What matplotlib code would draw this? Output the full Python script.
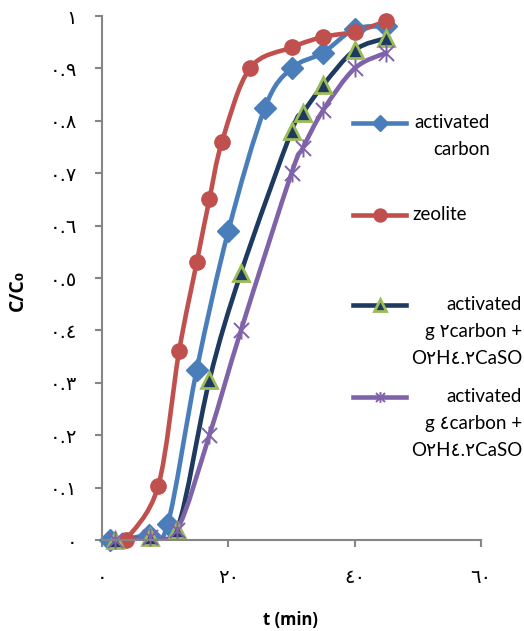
import numpy as np
import matplotlib
matplotlib.use('Agg')
import matplotlib.pyplot as plt
from matplotlib.path import Path
from matplotlib.patches import PathPatch
from matplotlib.lines import Line2D

# time (min) and C/C0 for each series
ac_t = [1.3, 7.5, 10.4, 15, 20, 25.8, 30, 35, 40, 45]
ac_c = [0.0, 0.01, 0.03, 0.325, 0.59, 0.825, 0.90, 0.93, 0.975, 0.98]

zeo_t = [3.8, 8.9, 12.2, 15, 17, 19, 23.4, 30, 35, 40, 45]
zeo_c = [0.0, 0.103, 0.36, 0.53, 0.65, 0.76, 0.90, 0.94, 0.96, 0.97, 0.99]

mix2_t = [2.0, 7.6, 11.9, 17, 22, 30, 31.8, 35, 40, 45]
mix2_c = [0.0, 0.005, 0.02, 0.305, 0.51, 0.78, 0.815, 0.868, 0.935, 0.958]

mix4_t = [2.0, 7.6, 11.9, 17, 22, 30, 31.8, 35, 40, 45]
mix4_c = [0.0, 0.005, 0.02, 0.20, 0.40, 0.70, 0.748, 0.82, 0.90, 0.93]

x_ticks = [0, 20, 40, 60]
x_labels = ['٠', '٢٠', '٤٠', '٦٠']
y_ticks = [0, 0.1, 0.2, 0.3, 0.4, 0.5, 0.6, 0.7, 0.8, 0.9, 1.0]
y_labels = ['٠', '٠.١', '٠.٢', '٠.٣', '٠.٤', '٠.٥', '٠.٦', '٠.٧', '٠.٨', '٠.٩', '١']

legend_labels = [
    ['activated', 'carbon'],
    ['zeolite'],
    ['activated', 'g ٢carbon +', 'O٢H٤.٢CaSO'],
    ['activated', 'g ٤carbon +', 'O٢H٤.٢CaSO'],
]

BLUE = '#4A7EBB'
RED = '#C0504D'
NAVY = '#1F3A60'
GREEN = '#9BBB59'
PURPLE = '#7F63A8'
GRAY = '#868686'

# excel-ish star marker: X with a vertical bar
star = Path([(-1, -1), (1, 1), (-1, 1), (1, -1), (0, -1.2), (0, 1.2)],
            [Path.MOVETO, Path.LINETO, Path.MOVETO, Path.LINETO, Path.MOVETO, Path.LINETO])


def smooth_path(x, y):
    # catmull-rom through the points, as bezier segments
    pts = np.column_stack([x, y]).astype(float)
    verts = [pts[0]]
    codes = [Path.MOVETO]
    n = len(pts)
    for i in range(n - 1):
        p0 = pts[i - 1] if i > 0 else pts[i]
        p1, p2 = pts[i], pts[i + 1]
        p3 = pts[i + 2] if i + 2 < n else p2
        verts += [p1 + (p2 - p0) / 6, p2 - (p3 - p1) / 6, p2]
        codes += [Path.CURVE4] * 3
    return Path(verts, codes)


series = [
    (ac_t, ac_c, dict(color=BLUE, marker='D', ms=11, mfc=BLUE, mec=BLUE, mew=1), 0.75),
    (zeo_t, zeo_c, dict(color=RED, marker='o', ms=11, mfc=RED, mec=RED, mew=1), 0.85),
    (mix2_t, mix2_c, dict(color=NAVY, marker='^', ms=12, mfc=NAVY, mec=GREEN, mew=2), 0.75),
    (mix4_t, mix4_c, dict(color=PURPLE, marker=star, ms=13, mfc='none', mec=PURPLE, mew=1.4), 0.6),
]

fig = plt.figure(figsize=(5.24, 6.31), dpi=100)
ax = fig.add_axes([102 / 524, 1 - 540 / 631, (481 - 102) / 524, (540 - 16) / 631])

for t, c, st, _ in series:
    ax.add_patch(PathPatch(smooth_path(t, c), facecolor='none', edgecolor=st['color'],
                           lw=3.3, capstyle='round', joinstyle='round'))
    ax.plot(t, c, linestyle='none', marker=st['marker'], ms=st['ms'], mfc=st['mfc'],
            mec=st['mec'], mew=st['mew'], clip_on=False)

ax.set_xlim(0, 60)
ax.set_ylim(0, 1)
ax.set_xticks(x_ticks)
ax.set_xticklabels(x_labels, fontsize=14, family='DejaVu Sans')
ax.set_yticks(y_ticks)
ax.set_yticklabels(y_labels, fontsize=14, family='DejaVu Sans')
for s in ['top', 'right']:
    ax.spines[s].set_visible(False)
for s in ['left', 'bottom']:
    ax.spines[s].set_color(GRAY)
    ax.spines[s].set_linewidth(1.5)
ax.tick_params(axis='both', direction='out', length=5, width=1.5, color=GRAY)
ax.tick_params(axis='y', pad=13)
ax.tick_params(axis='x', pad=15)

fig.text(18 / 524, 1 - 290 / 631, 'C/C₀', rotation=90, ha='center', va='center',
         fontsize=14, fontweight='bold', family=['Open Sans', 'DejaVu Sans'])
fig.text(290 / 524, 1 - 620 / 631, 't (min)', ha='center', va='center',
         fontsize=12, fontweight='bold', family=['Open Sans', 'DejaVu Sans'])

# legend drawn by hand to keep excel's layout
leg_y = [123, 215, 305, 397]
leg_right = [490, None, 522, 522]
for (t, c, st, mscale), labels, py, right in zip(series, legend_labels, leg_y, leg_right):
    fy = 1 - py / 631
    fig.add_artist(Line2D([353 / 524, 379.5 / 524, 406 / 524], [fy, fy, fy],
                          transform=fig.transFigure, color=st['color'], lw=3.3,
                          marker=st['marker'], ms=st['ms'] * mscale, mfc=st['mfc'],
                          mec=st['mec'], mew=st['mew'], markevery=[1]))
    for k, line in enumerate(labels):
        ly = 1 - (py + k * 26.5) / 631
        if right is None:
            fig.text(412 / 524, ly, line, ha='left', va='center', fontsize=13.5,
                     family=['Lato', 'DejaVu Sans'])
        else:
            fig.text(right / 524, ly, line, ha='right', va='center', fontsize=13.5,
                     family=['Lato', 'DejaVu Sans'])

fig.savefig('out.png', dpi=100)
